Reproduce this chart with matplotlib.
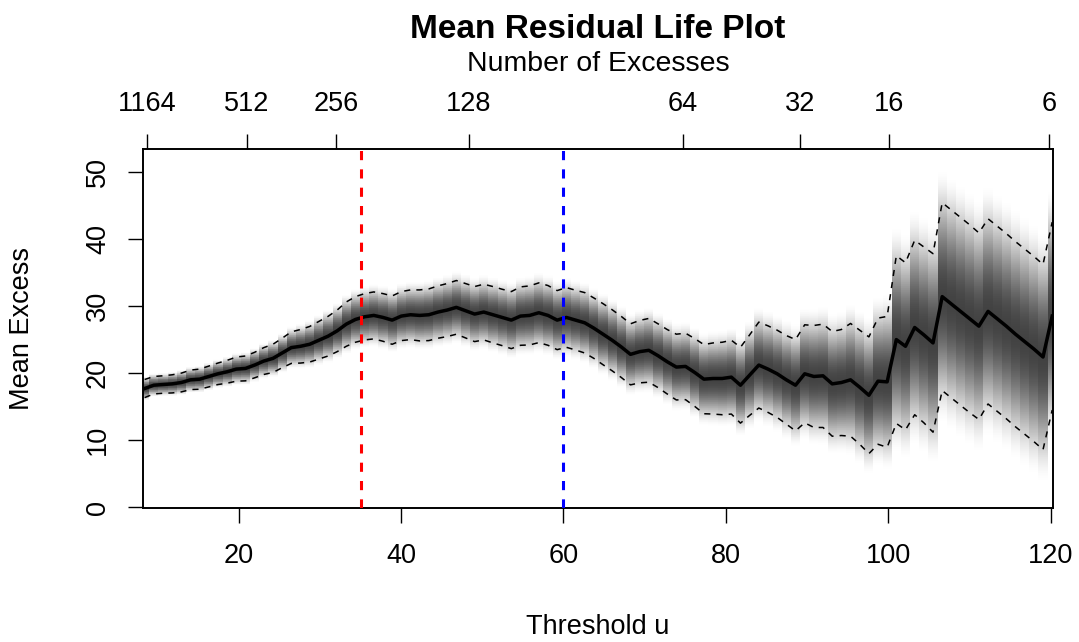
import numpy as np
import matplotlib.pyplot as plt

plt.rcParams['font.family'] = ['Liberation Sans', 'DejaVu Sans']

# thresholds u (100 equally spaced candidate thresholds)
thresholds = [
    8.40, 9.53, 10.66, 11.79, 12.92, 14.05, 15.18, 16.31, 17.43, 18.56,
    19.69, 20.82, 21.95, 23.08, 24.21, 25.34, 26.47, 27.60, 28.73, 29.86,
    30.99, 32.12, 33.24, 34.37, 35.50, 36.63, 37.76, 38.89, 40.02, 41.15,
    42.28, 43.41, 44.54, 45.67, 46.80, 47.93, 49.05, 50.18, 51.31, 52.44,
    53.57, 54.70, 55.83, 56.96, 58.09, 59.22, 60.35, 61.48, 62.61, 63.74,
    64.87, 65.99, 67.12, 68.25, 69.38, 70.51, 71.64, 72.77, 73.90, 75.03,
    76.16, 77.29, 78.42, 79.55, 80.68, 81.80, 82.93, 84.06, 85.19, 86.32,
    87.45, 88.58, 89.71, 90.84, 91.97, 93.10, 94.23, 95.36, 96.49, 97.62,
    98.74, 99.87, 101.00, 102.13, 103.26, 104.39, 105.52, 106.65, 107.78, 108.91,
    110.04, 111.17, 112.30, 113.43, 114.55, 115.68, 116.81, 117.94, 119.07, 120.20,
]

# sample mean excess at each threshold
mean_excess = [
    17.7, 18.2, 18.3, 18.4, 18.6, 19.0, 19.1, 19.5, 19.9, 20.2,
    20.6, 20.7, 21.2, 21.8, 22.2, 23.0, 23.8, 24.0, 24.3, 24.9,
    25.5, 26.3, 27.3, 28.0, 28.4, 28.6, 28.3, 27.9, 28.5, 28.7,
    28.6, 28.7, 29.1, 29.4, 29.8, 29.3, 28.8, 29.1, 28.7, 28.3,
    27.9, 28.5, 28.6, 29.0, 28.6, 27.9, 28.3, 27.9, 27.5, 26.7,
    25.8, 24.9, 23.9, 22.8, 23.2, 23.4, 22.6, 21.7, 20.9, 21.0,
    20.1, 19.1, 19.2, 19.2, 19.4, 18.2, 19.7, 21.2, 20.6, 19.9,
    19.0, 18.2, 19.9, 19.5, 19.6, 18.4, 18.6, 19.0, 17.9, 16.7,
    18.8, 18.7, 25.0, 24.0, 26.8, 25.7, 24.5, 31.4, 30.3, 29.2,
    28.1, 27.0, 29.2, 28.1, 27.0, 25.8, 24.7, 23.6, 22.4, 28.5,
]

# half width of the 95% confidence interval
ci_half = [
    1.35, 1.30, 1.30, 1.35, 1.40, 1.45, 1.50, 1.55, 1.60, 1.70,
    1.80, 1.85, 1.90, 2.00, 2.10, 2.20, 2.35, 2.50, 2.65, 2.80,
    2.95, 3.10, 3.30, 3.40, 3.45, 3.50, 3.55, 3.60, 3.65, 3.70,
    3.80, 3.85, 3.90, 3.95, 4.00, 4.05, 4.10, 4.15, 4.20, 4.20,
    4.25, 4.35, 4.40, 4.45, 4.45, 4.40, 4.45, 4.45, 4.50, 4.50,
    4.55, 4.55, 4.55, 4.55, 4.65, 4.75, 4.75, 4.80, 4.90, 4.95,
    5.05, 5.15, 5.30, 5.40, 5.50, 5.65, 6.00, 6.40, 6.45, 6.50,
    6.60, 6.80, 7.30, 7.60, 7.70, 7.80, 7.90, 8.40, 8.50, 8.70,
    9.40, 9.75, 12.50, 12.45, 13.00, 13.10, 13.30, 14.00, 14.00, 14.00,
    14.00, 13.90, 13.80, 13.80, 13.80, 13.80, 13.80, 13.80, 13.80, 14.00,
]

top_tick_u = [8.7, 21.0, 32.0, 48.3, 74.7, 89.1, 100.1, 119.8]
top_tick_n = ['1164', '512', '256', '128', '64', '32', '16', '6']
try_thresh = [35, 60]
try_colors = ['red', 'blue']

u = np.array(thresholds)
me = np.array(mean_excess)
hw = np.array(ci_half)
lower = me - hw
upper = me + hw
sd = hw / 1.96

fig = plt.figure(figsize=(10.79, 6.42), dpi=100)
ax = fig.add_axes([143 / 1079, 1 - 508 / 642, 910 / 1079, 359 / 642])

# grey shading of the sampling density around each mean excess
xedges = np.concatenate([[u[0] - (u[1] - u[0]) / 2], (u[:-1] + u[1:]) / 2,
                         [u[-1] + (u[-1] - u[-2]) / 2]])
yc = np.linspace(0, 55, 551)
yedges = np.linspace(-0.05, 55.05, 552)
z = (yc[:, None] - me[None, :]) / sd[None, :]
dens = np.clip(1 - (z / 2.7) ** 2, 0, 1) ** 2
shade = 1 - 0.74 * dens
ax.pcolormesh(xedges, yedges, shade, cmap='gray', vmin=0, vmax=1,
              shading='flat', zorder=1)

ax.plot(u, lower, color='black', lw=1.1, dashes=(4, 4), zorder=3)
ax.plot(u, upper, color='black', lw=1.1, dashes=(4, 4), zorder=3)
ax.plot(u, me, color='black', lw=2.5, zorder=4)
for t, c in zip(try_thresh, try_colors):
    ax.axvline(t, color=c, lw=2.2, dashes=(3, 3), zorder=5)

ax.set_xlim(8.2, 120.3)
ax.set_ylim(-0.1, 53.4)
ax.set_xticks([20, 40, 60, 80, 100, 120])
ax.set_yticks([0, 10, 20, 30, 40, 50])
ax.set_yticklabels(['0', '10', '20', '30', '40', '50'], rotation=90, va='center')
ax.tick_params(direction='out', length=11, width=1, labelsize=19.5, pad=14)
ax.tick_params(axis='y', pad=12)
for s in ax.spines.values():
    s.set_linewidth(1.4)

ax2 = ax.twiny()
ax2.set_xlim(ax.get_xlim())
ax2.set_xticks(top_tick_u)
ax2.set_xticklabels(top_tick_n)
ax2.tick_params(direction='out', length=11, width=1, labelsize=19.5, pad=12)
for s in ax2.spines.values():
    s.set_visible(False)

xc = (143 + 1053) / 2 / 1079
fig.text(xc, 1 - 30 / 642, 'Mean Residual Life Plot', ha='center', va='center',
         fontsize=24, fontweight='bold')
fig.text(xc, 1 - 64 / 642, 'Number of Excesses', ha='center', va='center', fontsize=20.5)
fig.text(xc, 1 - 627 / 642, 'Threshold u', ha='center', va='center', fontsize=19.5)
fig.text(22 / 1079, 1 - 328.5 / 642, 'Mean Excess', ha='center', va='center',
         rotation=90, fontsize=19.5)

fig.savefig('out.png', dpi=100)
